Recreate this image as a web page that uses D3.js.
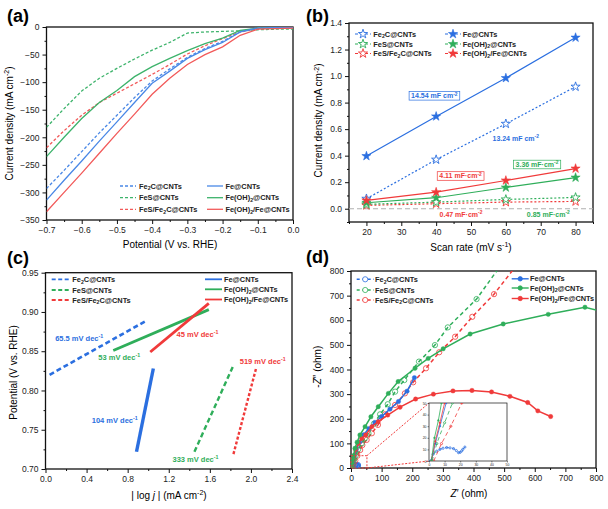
<!DOCTYPE html>
<html><head><meta charset="utf-8">
<script src="https://cdn.jsdelivr.net/npm/d3@7"></script>
<style>body{margin:0;background:#fff} text{font-family:"Liberation Sans",Arial,sans-serif}</style>
</head><body>
<svg id="chart" width="608" height="509"></svg>
<script>
// ---------------- DATA ----------------
// (a) LSV
const lsvPotential = [-0.70,-0.65,-0.60,-0.55,-0.50,-0.45,-0.40,-0.35,-0.30,-0.25,-0.20,-0.15,-0.10,-0.05,0.00];
const lsvFe2C     = [-293,-260,-226,-192,-160,-128,-98,-76,-55,-39,-26,-9,-1,0,1];
const lsvFeS      = [-182,-148,-116,-93,-75,-58,-42,-28,-11,-9,-8,-7,-5,-4,-4];
const lsvFeSFe2C  = [-219,-188,-160,-137,-120,-103,-86,-68,-49,-34,-21,-9,-3,-2,-2];
const lsvFe       = [-314,-278,-243,-207,-172,-137,-102,-80,-57,-41,-28,-9,-2,-1,-1];
const lsvFeOH2    = [-235,-200,-166,-137,-115,-90,-72,-57,-43,-30,-20,-6,-2,-1,-1];
const lsvFeOH2Fe  = [-335,-300,-265,-229,-193,-158,-122,-93,-68,-50,-36,-15,-4,-3,-2];
const aXTicks = [-0.7,-0.6,-0.5,-0.4,-0.3,-0.2,-0.1,0.0];
const aYTicks = [0,-50,-100,-150,-200,-250,-300,-350];

// (b) Cdl
const scanRates   = [20,40,60,80];
const cdlFe2C     = [0.075,0.37,0.64,0.92];
const cdlFeS      = [0.033,0.05,0.07,0.085];
const cdlFeSFe2C  = [0.025,0.038,0.05,0.055];
const cdlFe       = [0.397,0.696,0.985,1.29];
const cdlFeOH2    = [0.045,0.083,0.16,0.235];
const cdlFeOH2Fe  = [0.063,0.125,0.213,0.303];
const bXTicks = [20,30,40,50,60,70,80];
const bYTicks = [0.0,0.2,0.4,0.6,0.8,1.0,1.2,1.4];
const cdlLabels = ["14.54 mF cm","13.24 mF cm","4.11 mF·cm","3.36 mF·cm","0.47 mF·cm","0.85 mF·cm"];

// (c) Tafel  [|log j|, potential]
const tafelFe2C    = [[0.04,0.820],[0.97,0.888]];
const tafelFeS     = [[1.45,0.722],[1.83,0.832]];
const tafelFeSFe2C = [[1.83,0.719],[2.05,0.828]];
const tafelFe      = [[0.886,0.722],[1.05,0.828]];
const tafelFeOH2   = [[0.66,0.851],[1.59,0.903]];
const tafelFeOH2Fe = [[1.02,0.849],[1.59,0.911]];
const tafelLabels = ["65.5","53","45","519","104","333"];
const cXTicks = [0.0,0.4,0.8,1.2,1.6,2.0,2.4];
const cYTicks = [0.70,0.75,0.80,0.85,0.90,0.95];

// (d) EIS [Z', -Z'']
const eisFe2C = [[1,0],[2.6,5.8],[5,8.5],[7,10],[9,11],[11.3,11.6],[13.5,11.3],[15.7,10.7],[17.5,9],[18.9,7.2],[20,7.5],[21,8.7],[21.7,10.1],[23,12]];
const eisFeS = [[2,0],[5,15],[10,33],[15,50],[23,75],[35,100],[45,120],[57,141],[75,180],[95,218],[120,259],[144,310],[174,357],[222,432],[274,499],[316,571],[410,686],[500,842]];
const eisFeSFe2C = [[3,0],[8,15],[14,30],[21,50],[30,73],[37,93],[51,114],[68,141],[88,175],[111,218],[144,256],[176,303],[203,348],[245,405],[288,470],[340,533],[396,614],[467,706],[545,830]];
const eisFe = [[1.5,0],[4,15],[7,30],[11,50],[17,75],[28,105],[42,135],[58,160],[78,185],[100,209],[127,239],[155,270],[183,312],[207,367]];
const eisFeOH2 = [[1.5,0],[3.5,20],[6,35],[8,50],[13,80],[20,105],[29,134],[46,168],[65,208],[89,249],[122,303],[154,351],[209,405],[252,445],[301,484],[389,544],[497,585],[644,624],[764,653],[810,638]];
const eisFeOH2Fe = [[1.5,0],[4,17],[7,33],[10,50],[15,75],[24,100],[35,120],[48,134],[68,168],[89,188],[120,215],[160,247],[211,280],[269,300],[333,313],[395,315],[459,309],[519,291],[577,266],[610,232],[652,209]];
const dTicks = [0,100,200,300,400,500,600,700,800];
const insetTicks = [0,10,20,30,40,50];
const zoomBox = [52,50];

// ---------------- DRAWING ----------------
const BLUE="#2b6fe0", GREEN="#2fae5a", RED="#f03a3a";
const aBLUE="#4a88e6", aGREEN="#3db36b", aRED="#f25a5a";
const svg = d3.select("#chart");

function rich(sel, parts, fs){
  let shift=0;
  parts.forEach(p=>{
    const t=p[0], k=p[1]||"";
    let target=0, size=fs;
    if(k==="sup"){target=-0.38*fs; size=fs*0.7;}
    else if(k==="sub"){target=0.22*fs; size=fs*0.7;}
    const ts=sel.append("tspan").text(t).attr("font-size",size).attr("dy",target-shift);
    if(k==="i") ts.attr("font-style","italic");
    shift=target;
  });
  return sel;
}
const names = {
  Fe2C:[["Fe"],["2","sub"],["C@CNTs"]],
  FeS:[["FeS@CNTs"]],
  FeSFe2C:[["FeS/Fe"],["2","sub"],["C@CNTs"]],
  Fe:[["Fe@CNTs"]],
  FeOH2:[["Fe(OH)"],["2","sub"],["@CNTs"]],
  FeOH2Fe:[["Fe(OH)"],["2","sub"],["/Fe@CNTs"]]
};
const mids = a => a.slice(1).map((v,i)=>(v+a[i])/2);

function panel(o){
  const x=d3.scaleLinear().domain(o.xd).range([o.l,o.r]);
  const y=d3.scaleLinear().domain(o.yd).range([o.b,o.t]);
  const g=svg.append("g");
  const cid="clip"+o.name;
  svg.append("clipPath").attr("id",cid).append("rect")
    .attr("x",o.l).attr("y",o.t).attr("width",o.r-o.l).attr("height",o.b-o.t);
  const fs=o.tfs||8.5;
  const style=s=>{s.select(".domain").remove();
    s.selectAll("text").attr("font-size",fs).attr("fill","#222").attr("font-family",'"Liberation Sans",Arial,sans-serif');
    s.selectAll("line").attr("stroke","#111").attr("stroke-width",o.tw||1);};
  g.append("g").attr("transform",`translate(0,${o.b})`)
    .call(d3.axisBottom(x).tickValues(o.xt).tickSize(o.ts||4).tickSizeOuter(0).tickFormat(o.xf).tickPadding(o.tp||3)).call(style);
  g.append("g").attr("transform",`translate(0,${o.b})`)
    .call(d3.axisBottom(x).tickValues(o.xm).tickSize((o.ts||4)/2).tickSizeOuter(0).tickFormat("")).call(style);
  g.append("g").attr("transform",`translate(${o.l},0)`)
    .call(d3.axisLeft(y).tickValues(o.yt).tickSize(o.ts||4).tickSizeOuter(0).tickFormat(o.yf).tickPadding(o.tp||3)).call(style);
  g.append("g").attr("transform",`translate(${o.l},0)`)
    .call(d3.axisLeft(y).tickValues(o.ym).tickSize((o.ts||4)/2).tickSizeOuter(0).tickFormat("")).call(style);
  g.append("rect").attr("x",o.l).attr("y",o.t).attr("width",o.r-o.l).attr("height",o.b-o.t)
    .attr("fill","none").attr("stroke","#111").attr("stroke-width",o.fw||1.3);
  const plot=svg.append("g").attr("clip-path",`url(#${cid})`);
  return {x,y,g,plot};
}
function panelLabel(txt,x,y){
  svg.append("text").attr("x",x).attr("y",y).attr("font-size",18).attr("font-weight","bold").text(txt);
}
function yTitle(parts,x,y){
  rich(svg.append("text").attr("transform",`translate(${x},${y}) rotate(-90)`).attr("text-anchor","middle").attr("font-size",10),parts,10);
}
function xTitle(parts,x,y){
  rich(svg.append("text").attr("x",x).attr("y",y).attr("text-anchor","middle").attr("font-size",10),parts,10);
}
function legText(x,y,parts,fs){
  rich(svg.append("text").attr("x",x).attr("y",y+2.6).attr("font-size",fs||7.4).attr("font-weight","bold").attr("fill","#222"),parts,fs||7.4);
}

// ===== Panel (a) =====
{
  const P=panel({name:"a",l:46.5,t:27,r:293,b:220,xd:[-0.7,0],yd:[-350,0],
    xt:aXTicks,xm:mids(aXTicks),yt:aYTicks,ym:mids(aYTicks),xf:d3.format(".1f"),yf:d3.format("d")});
  const series=[
    {v:lsvFeS,c:aGREEN,d:"3,2"},{v:lsvFeSFe2C,c:aRED,d:"3,2"},{v:lsvFe2C,c:aBLUE,d:"3,2"},
    {v:lsvFeOH2,c:aGREEN,d:null},{v:lsvFe,c:aBLUE,d:null},{v:lsvFeOH2Fe,c:aRED,d:null}];
  const line=d3.line().x(d=>P.x(d[0])).y(d=>P.y(d[1]));
  series.forEach(s=>{
    P.plot.append("path").datum(lsvPotential.map((p,i)=>[p,s.v[i]])).attr("d",line)
      .attr("fill","none").attr("stroke",s.c).attr("stroke-width",1.3).attr("stroke-dasharray",s.d);
  });
  const leg=[["Fe2C",aBLUE,"3,2",120,139,186],["FeS",aGREEN,"3,2",120,139,197.7],["FeSFe2C",aRED,"3,2",120,139,209.3],
             ["Fe",aBLUE,null,207,225.5,186],["FeOH2",aGREEN,null,207,225.5,197.7],["FeOH2Fe",aRED,null,207,225.5,209.3]];
  leg.forEach(l=>{
    svg.append("line").attr("x1",l[3]).attr("x2",l[3]+16).attr("y1",l[5]).attr("y2",l[5])
      .attr("stroke",l[1]).attr("stroke-width",1.3).attr("stroke-dasharray",l[2]);
    legText(l[4],l[5],names[l[0]]);
  });
  panelLabel("(a)",7,22);
  yTitle([["Current density (mA cm"],["-2","sup"],[")"]],12.5,123.5);
  xTitle([["Potential (V vs. RHE)"]],170,248);
}

// ===== Panel (b) =====
{
  const P=panel({name:"b",l:349,t:23,r:593,b:222,xd:[15,85],yd:[-0.1,1.4],
    xt:bXTicks,xm:[15,...mids(bXTicks),85],yt:bYTicks,ym:[-0.1,...mids(bYTicks)],xf:d3.format("d"),yf:d3.format(".1f")});
  P.plot.append("line").attr("x1",P.x(15)).attr("x2",P.x(85)).attr("y1",P.y(0)).attr("y2",P.y(0))
    .attr("stroke","#b0b0b0").attr("stroke-width",1.2).attr("stroke-dasharray","5,3");
  const series=[
    {v:cdlFeSFe2C,c:RED,h:true},{v:cdlFeS,c:GREEN,h:true},{v:cdlFe2C,c:BLUE,h:true},
    {v:cdlFeOH2,c:GREEN,h:false},{v:cdlFeOH2Fe,c:RED,h:false},{v:cdlFe,c:BLUE,h:false}];
  const line=d3.line().x(d=>P.x(d[0])).y(d=>P.y(d[1]));
  const star=d3.symbol().type(d3.symbolStar).size(26);
  series.forEach(s=>{
    const pts=scanRates.map((r,i)=>[r,s.v[i]]);
    P.plot.append("path").datum(pts).attr("d",line).attr("fill","none").attr("stroke",s.c)
      .attr("stroke-width",1.2).attr("stroke-dasharray",s.h?"2,2":null);
  });
  series.forEach(s=>{
    const pts=scanRates.map((r,i)=>[r,s.v[i]]);
    P.plot.selectAll(null).data(pts).join("path").attr("d",star)
      .attr("transform",d=>`translate(${P.x(d[0])},${P.y(d[1])})`)
      .attr("fill",s.h?"#fff":s.c).attr("stroke",s.c).attr("stroke-width",s.h?0.9:0.6);
  });
  const leg=[["Fe2C",BLUE,true,355,373.3,34],["FeS",GREEN,true,355,373.3,44],["FeSFe2C",RED,true,355,373.3,53.5],
             ["Fe",BLUE,false,445,462.7,34],["FeOH2",GREEN,false,445,462.7,44],["FeOH2Fe",RED,false,445,462.7,53.5]];
  leg.forEach(l=>{
    svg.append("line").attr("x1",l[3]).attr("x2",l[3]+16).attr("y1",l[5]).attr("y2",l[5])
      .attr("stroke",l[1]).attr("stroke-width",1.1).attr("stroke-dasharray","3,2");
    svg.append("path").attr("d",star).attr("transform",`translate(${l[3]+8},${l[5]})`)
      .attr("fill",l[2]?"#fff":l[1]).attr("stroke",l[1]).attr("stroke-width",l[2]?0.9:0.6);
    legText(l[4],l[5],names[l[0]]);
  });
  const ann=[[0,BLUE,true,434.3,95.8],[1,BLUE,false,515.7,138.3],[2,RED,true,460.5,176],
             [3,GREEN,true,537,164.5],[4,RED,false,461,214.3],[5,GREEN,false,548.3,214.3]];
  ann.forEach(a=>{
    const t=svg.append("text").attr("x",a[3]).attr("y",a[4]+2.4).attr("text-anchor","middle")
      .attr("font-size",7).attr("font-weight","bold").attr("fill",a[1]);
    rich(t,[[cdlLabels[a[0]]],["-2","sup"]],7);
    if(a[2]){
      const bb=t.node().getBBox();
      svg.insert("rect",()=>t.node()).attr("x",bb.x-2).attr("y",a[4]-4.3).attr("width",bb.width+4).attr("height",8.6)
        .attr("fill","#fff").attr("stroke",a[1]).attr("stroke-width",0.7);
    }
  });
  panelLabel("(b)",306,22);
  yTitle([["Current density (mA cm"],["-2","sup"],[")"]],322.3,120.5);
  xTitle([["Scan rate (mV s"],["-1","sup"],[")"]],471,251);
}

// ===== Panel (c) =====
{
  const P=panel({name:"c",l:45.5,t:272.7,r:292,b:469,xd:[0,2.4],yd:[0.70,0.95],
    xt:cXTicks,xm:mids(cXTicks),yt:cYTicks,ym:mids(cYTicks),xf:d3.format(".1f"),yf:d3.format(".2f")});
  const line=d3.line().x(d=>P.x(d[0])).y(d=>P.y(d[1]));
  const series=[
    {v:tafelFe2C,c:BLUE,d:"5,3",w:2.6},{v:tafelFeS,c:GREEN,d:"5,3",w:2.4},{v:tafelFeSFe2C,c:RED,d:"3,2",w:2.4},
    {v:tafelFe,c:BLUE,d:null,w:3.4},{v:tafelFeOH2,c:GREEN,d:null,w:2.8},{v:tafelFeOH2Fe,c:RED,d:null,w:2.8}];
  series.forEach(s=>{
    P.plot.append("path").datum(s.v).attr("d",line).attr("fill","none").attr("stroke",s.c)
      .attr("stroke-width",s.w).attr("stroke-dasharray",s.d);
  });
  const leg=[["Fe2C",BLUE,"4,2.5",51.7,72.3,279.3],["FeS",GREEN,"4,2.5",51.7,72.3,290],["FeSFe2C",RED,"4,2.5",51.7,72.3,300],
             ["Fe",BLUE,null,205,224,279.3],["FeOH2",GREEN,null,205,224,289.3],["FeOH2Fe",RED,null,205,224,299.5]];
  leg.forEach(l=>{
    svg.append("line").attr("x1",l[3]).attr("x2",l[3]+17).attr("y1",l[5]).attr("y2",l[5])
      .attr("stroke",l[1]).attr("stroke-width",1.8).attr("stroke-dasharray",l[2]);
    legText(l[4],l[5],names[l[0]]);
  });
  const ann=[[0,BLUE,79.2,338.3],[1,GREEN,119.2,357.7],[2,RED,197.5,334.3],[3,RED,262.7,361],[4,BLUE,114.7,420],[5,GREEN,195.5,459.3]];
  ann.forEach(a=>{
    rich(svg.append("text").attr("x",a[2]).attr("y",a[3]+2.6).attr("text-anchor","middle")
      .attr("font-size",7.5).attr("font-weight","bold").attr("fill",a[1]),
      [[tafelLabels[a[0]]+" mV dec"],["-1","sup"]],7.5);
  });
  panelLabel("(c)",7,264);
  yTitle([["Potential (V vs. RHE)"]],16.7,372.5);
  xTitle([["| log "],["j","i"],[" | (mA cm"],["-2","sup"],[")"]],169,499);
}

// ===== Panel (d) =====
{
  const P=panel({name:"d",l:351,t:271,r:596,b:468,xd:[0,800],yd:[0,800],
    xt:dTicks,xm:mids(dTicks),yt:dTicks,ym:mids(dTicks),xf:d3.format("d"),yf:d3.format("d")});
  const series=[
    {v:eisFe2C,c:BLUE,h:true},{v:eisFeSFe2C,c:RED,h:true},{v:eisFeS,c:GREEN,h:true},
    {v:eisFe,c:BLUE,h:false},{v:eisFeOH2Fe,c:RED,h:false},{v:eisFeOH2,c:GREEN,h:false}];
  function drawSeries(target,x,y,r,w){
    const line=d3.line().x(d=>x(d[0])).y(d=>y(d[1]));
    series.forEach(s=>{
      target.append("path").datum(s.v).attr("d",line).attr("fill","none").attr("stroke",s.c)
        .attr("stroke-width",w).attr("stroke-dasharray",s.h?"4,3":null);
      target.selectAll(null).data(s.v).join("circle").attr("cx",d=>x(d[0])).attr("cy",d=>y(d[1]))
        .attr("r",s.h?r*1.2:r).attr("fill",s.h?"none":s.c).attr("stroke",s.c).attr("stroke-width",s.h?0.8:0.4);
    });
  }
  drawSeries(P.plot,P.x,P.y,2.2,1.5);
  // zoom rectangle & connectors
  const zx=P.x(zoomBox[0]), zy=P.y(zoomBox[1]);
  svg.append("rect").attr("x",P.x(0)).attr("y",zy).attr("width",zx-P.x(0)).attr("height",P.y(0)-zy)
    .attr("fill","none").attr("stroke",RED).attr("stroke-width",1).attr("stroke-dasharray","2,1.5");
  const I={l:429,t:403,r:507,b:461};
  svg.append("line").attr("x1",zx).attr("y1",zy).attr("x2",I.l).attr("y2",I.t)
    .attr("stroke",RED).attr("stroke-width",1).attr("stroke-dasharray","2,1.5");
  svg.append("line").attr("x1",zx).attr("y1",P.y(0)).attr("x2",I.l).attr("y2",I.b)
    .attr("stroke",RED).attr("stroke-width",1).attr("stroke-dasharray","2,1.5");
  // inset
  svg.append("rect").attr("x",I.l).attr("y",I.t).attr("width",I.r-I.l).attr("height",I.b-I.t).attr("fill","#fff");
  const Q=panel({name:"inset",l:I.l,t:I.t,r:I.r,b:I.b,xd:[0,50],yd:[0,50],
    xt:insetTicks,xm:[],yt:insetTicks,ym:[],xf:d3.format("d"),yf:d3.format("d"),tfs:3.4,ts:1.5,tp:1,fw:0.7,tw:0.5});
  drawSeries(Q.plot,Q.x,Q.y,0.9,0.8);

  const leg=[["Fe2C",BLUE,true,356.7,375,279.3],["FeS",GREEN,true,356.7,375,290],["FeSFe2C",RED,true,356.7,375,300],
             ["Fe",BLUE,false,511.7,530,278.8],["FeOH2",GREEN,false,511.7,530,288],["FeOH2Fe",RED,false,511.7,530,298.5]];
  leg.forEach(l=>{
    svg.append("rect").attr("x",l[3]-1).attr("y",l[5]-4).attr("width",l[4]-l[3]+1).attr("height",8).attr("fill","#fff");
    svg.append("line").attr("x1",l[3]).attr("x2",l[3]+17).attr("y1",l[5]).attr("y2",l[5])
      .attr("stroke",l[1]).attr("stroke-width",1.4).attr("stroke-dasharray",l[2]?"3,2.5":null);
    svg.append("circle").attr("cx",l[3]+8.5).attr("cy",l[5]).attr("r",l[2]?2.6:2.2)
      .attr("fill",l[2]?"#fff":l[1]).attr("stroke",l[1]).attr("stroke-width",0.8);
    legText(l[4],l[5],names[l[0]]);
  });
  panelLabel("(d)",306,263);
  yTitle([["-"],["Z","i"],["″ (ohm)"]],320.7,366.7);
  xTitle([["Z","i"],["′ (ohm)"]],469,497);
}
</script>
</body></html>
